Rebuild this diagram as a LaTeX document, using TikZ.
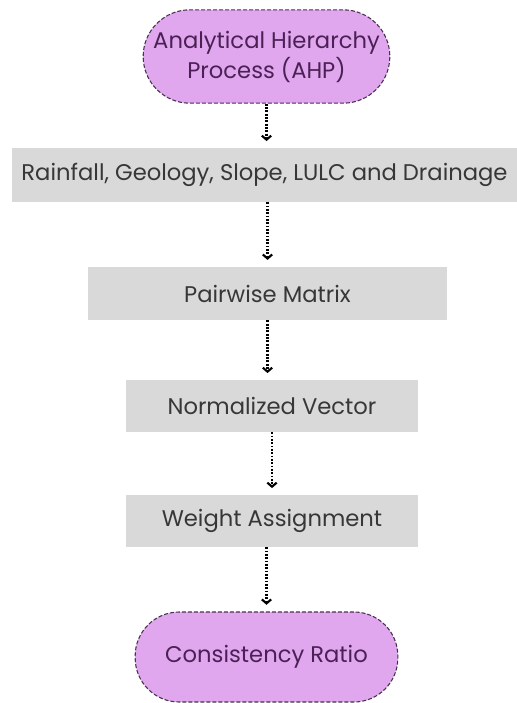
\documentclass[tikz,border=0pt]{standalone}
\usepackage{fontspec}
\setmainfont{Poppins}
\usetikzlibrary{arrows.meta}
\definecolor{pillfill}{RGB}{224,166,238}
\definecolor{pillline}{RGB}{70,50,75}
\definecolor{pilltext}{RGB}{75,33,85}
\definecolor{boxgrey}{RGB}{217,217,217}
\definecolor{boxtext}{RGB}{55,55,55}
\begin{document}
\begin{tikzpicture}[x=0.75pt,y=-0.75pt,
        pill/.style={draw=pillline, dash pattern=on 3pt off 1.5pt, line width=0.8pt, fill=pillfill, text=pilltext, align=center, inner sep=0pt, font=\fontsize{17}{22.5}\selectfont},
        greybox/.style={fill=boxgrey, text=boxtext, inner sep=0pt, font=\fontsize{17}{20}\selectfont},
        flow/.style={dash pattern=on 1.4pt off 1.1pt, line width=1.6pt, -{Straight Barb[length=3pt,width=7pt,line width=1.6pt]}, shorten >=5pt}]
        \useasboundingbox (0,0) rectangle (517,703);
        \node[pill, minimum width=185pt, minimum height=70pt, rounded corners=35pt] (ahp) at (266.5,56.5) {Analytical Hierarchy\\Process (AHP)};
        \node[greybox, minimum width=379pt, minimum height=40.5pt] (rain) at (264.5,175) {Rainfall, Geology, Slope, LULC and Drainage};
        \node[greybox, minimum width=269pt, minimum height=40pt] (pair) at (267.5,293.5) {Pairwise Matrix};
        \node[greybox, minimum width=219pt, minimum height=39pt] (norm) at (272,406) {Normalized Vector};
        \node[greybox, minimum width=219pt, minimum height=39pt] (wght) at (272,521) {Weight Assignment};
        \node[pill, minimum width=197pt, minimum height=67.5pt, rounded corners=33pt] (cons) at (266.5,657) {Consistency Ratio};
        % dotted connectors
        \draw[flow] (ahp.south) -- (ahp.south |- rain.north);
        \draw[flow] (rain.south -| pair.north) -- (pair.north);
        \draw[flow] (pair.south) -- (pair.south |- norm.north);
        \draw[flow] (norm.south) -- (norm.south |- wght.north);
        \draw[flow] (wght.south -| cons.north) -- (cons.north);
\end{tikzpicture}
\end{document}
